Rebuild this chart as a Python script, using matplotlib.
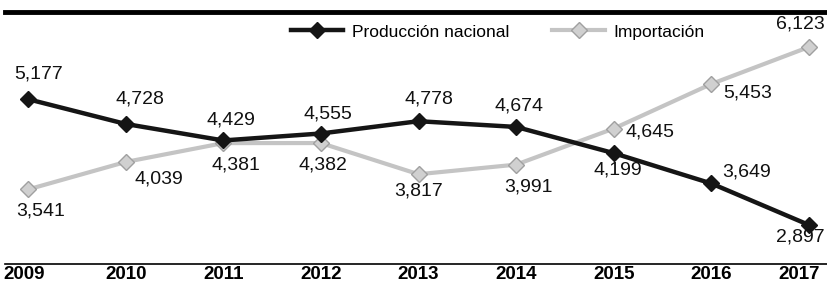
import numpy as np
import matplotlib.pyplot as plt
import matplotlib.transforms as mtransforms

# Datos
anios = [2009, 2010, 2011, 2012, 2013, 2014, 2015, 2016, 2017]
produccion = [5177, 4728, 4429, 4555, 4778, 4674, 4199, 3649, 2897]
importacion = [3541, 4039, 4381, 4382, 3817, 3991, 4645, 5453, 6123]
etiquetas_anios = [str(a) for a in anios]

# desplazamientos de las etiquetas (pixeles)
off_prod = [(11, 25), (14, 25), (8, 20), (7, 20), (10, 22), (3, 21), (4, -17), (35, 11), (-9, -12)]
off_imp = [(13, -22), (33, -17), (13, -22), (2, -22), (0, -17), (12, -22), (36, -3), (36, -9), (-9, 23)]

plt.rcParams['font.family'] = ['Liberation Sans', 'DejaVu Sans']

fig = plt.figure(figsize=(8.28, 2.86), dpi=100)
ax = fig.add_axes([5 / 828, 1 - 264 / 286, 1 - 5 / 828, (264 - 12) / 286])

ax.plot(anios, importacion, color='#c4c4c4', linewidth=3, marker='D', markersize=8,
        markerfacecolor='#d0d0d0', markeredgecolor='#a0a0a0', label='Importación', zorder=2)
ax.plot(anios, produccion, color='#151515', linewidth=3.2, marker='D', markersize=8,
        markerfacecolor='#151515', markeredgecolor='#151515', label='Producción nacional', zorder=3)

for x, y, (dx, dy) in zip(anios, produccion, off_prod):
    ax.annotate(f'{y:,}', (x, y), xytext=(dx, dy), textcoords='offset pixels',
                ha='center', va='center', fontsize=14, color='#111111')
for x, y, (dx, dy) in zip(anios, importacion, off_imp):
    ax.annotate(f'{y:,}', (x, y), xytext=(dx, dy), textcoords='offset pixels',
                ha='center', va='center', fontsize=14, color='#111111')

ax.set_xlim(2009 - 23 / 97.6, 2017 + 19 / 97.6)
ax.set_ylim(2190, 6757)

ax.set_xticks(anios)
ax.set_xticklabels(etiquetas_anios, fontsize=13.5, fontweight='bold')
ax.tick_params(axis='x', length=0, pad=1.5)
ax.set_yticks([])
labs = ax.get_xticklabels()
labs[0].set_transform(labs[0].get_transform() + mtransforms.ScaledTranslation(-4 / 100, 0, fig.dpi_scale_trans))
labs[-1].set_transform(labs[-1].get_transform() + mtransforms.ScaledTranslation(-10 / 100, 0, fig.dpi_scale_trans))

for s in ['left', 'right']:
    ax.spines[s].set_visible(False)
ax.spines['top'].set_linewidth(3.5)
ax.spines['bottom'].set_linewidth(1.2)

h, l = ax.get_legend_handles_labels()
ax.legend(h[::-1], l[::-1], ncol=2, frameon=False, fontsize=12.5, handlelength=3,
          columnspacing=2.5, handletextpad=0.5,
          loc='center right', bbox_to_anchor=(720 / 828, 1 - 32 / 286), bbox_transform=fig.transFigure)

fig.savefig('out.png', dpi=100)
